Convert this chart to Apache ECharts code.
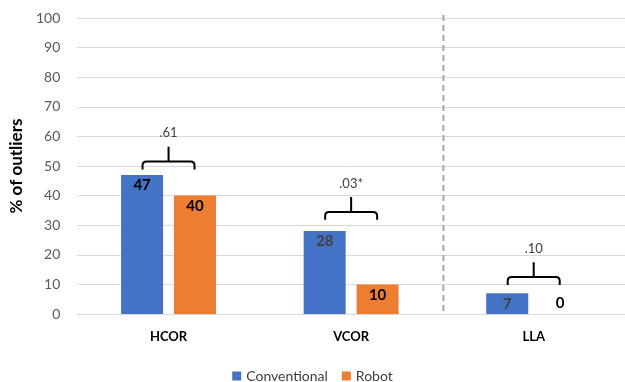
<!DOCTYPE html>
<html><head><meta charset="utf-8">
<script src="https://cdn.jsdelivr.net/npm/echarts@6/dist/echarts.min.js"></script>
<style>html,body{margin:0;padding:0;background:#fff}#c{width:625px;height:382px}</style>
</head><body><div id="c"></div>
<script>
var categories = ['HCOR', 'VCOR', 'LLA'];
var conventional = [47, 28, 7];
var robot = [40, 10, 0];
var yTicks = [0, 10, 20, 30, 40, 50, 60, 70, 80, 90, 100];
var pLabels = ['.61', '.03*', '.10'];
var bracketLevel = [51.5, 34.5, 12.5];
var dividerAfter = 1; // dashed divider between VCOR and LLA

var FONT = 'Lato';
var chart = echarts.init(document.getElementById('c'));

function labelFor(vals, colors) {
  return vals.map(function (v, i) {
    return {
      value: v,
      label: {
        show: true,
        position: v === 0 ? 'top' : 'insideTop',
        distance: 3,
        color: colors[i],
        fontWeight: 'bold',
        fontSize: 15,
        fontFamily: FONT
      }
    };
  });
}

chart.setOption({
  animation: false,
  grid: { left: 74, right: -4, top: 18, bottom: 68, containLabel: false },
  legend: {
    top: 364, left: 'center',
    itemWidth: 9, itemHeight: 9, itemGap: 14,
    icon: 'rect',
    textStyle: { fontFamily: FONT, fontSize: 14, color: '#404040' },
    data: ['Conventional', 'Robot']
  },
  xAxis: {
    type: 'category', data: categories,
    axisLine: { lineStyle: { color: '#d9d9d9', width: 1 } },
    axisTick: { show: false },
    axisLabel: { fontFamily: FONT, fontWeight: 'bold', fontSize: 13, color: '#000', margin: 16 }
  },
  yAxis: {
    type: 'value', min: yTicks[0], max: yTicks[yTicks.length - 1], interval: 10,
    axisLine: { show: false }, axisTick: { show: false },
    splitLine: { lineStyle: { color: '#d9d9d9', width: 1 } },
    axisLabel: { fontFamily: FONT, fontSize: 14, color: '#595959', margin: 17 },
    name: '% of outliers', nameLocation: 'middle', nameGap: 47, nameRotate: 90,
    nameTextStyle: { fontFamily: FONT, fontWeight: 'bold', fontSize: 17, color: '#000' }
  },
  series: [
    {
      name: 'Conventional', type: 'bar', barWidth: 42, barGap: '26%',
      itemStyle: { color: '#4472c4' },
      data: labelFor(conventional, ['#000', '#404040', '#404040'])
    },
    {
      name: 'Robot', type: 'bar', barWidth: 42,
      itemStyle: { color: '#ed7d31' },
      data: labelFor(robot, ['#000', '#000', '#000'])
    },
    {
      type: 'custom', name: 'brackets', silent: true, z: 5,
      data: categories.map(function (c, i) { return [i, bracketLevel[i]]; }),
      renderItem: function (params, api) {
        var idx = params.dataIndex;
        var p = api.coord([api.value(0), api.value(1)]);
        var unit = api.size([0, 1])[1];
        var catW = api.size([1, 0])[0];
        var half = 26;
        var drop = 2.7 * unit;
        var stem = 5 * unit;
        var r = 4;
        var x0 = p[0] - half, x1 = p[0] + half, y = p[1];
        var path = 'M' + x0 + ' ' + (y + drop) + ' L' + x0 + ' ' + (y + r) +
          ' Q' + x0 + ' ' + y + ' ' + (x0 + r) + ' ' + y +
          ' L' + (x1 - r) + ' ' + y + ' Q' + x1 + ' ' + y + ' ' + x1 + ' ' + (y + r) +
          ' L' + x1 + ' ' + (y + drop) +
          ' M' + p[0] + ' ' + y + ' L' + p[0] + ' ' + (y - stem);
        var children = [
          { type: 'path', shape: { pathData: path },
            style: { stroke: '#000', lineWidth: 2, fill: null } },
          { type: 'text', x: p[0], y: y - stem - 7,
            style: { text: pLabels[idx], fill: '#404040', fontFamily: FONT, fontSize: 13,
              align: 'center', verticalAlign: 'bottom' } }
        ];
        if (idx === dividerAfter) {
          var top = api.coord([idx, yTicks[yTicks.length - 1]]);
          var bot = api.coord([idx, yTicks[0]]);
          var xd = top[0] + catW / 2 + 1;
          children.push({ type: 'line',
            shape: { x1: xd, y1: top[1] - 3, x2: xd, y2: bot[1] },
            style: { stroke: '#a6a6a6', lineWidth: 2, lineDash: [6, 4] } });
        }
        return { type: 'group', children: children };
      }
    }
  ]
});
</script></body></html>
